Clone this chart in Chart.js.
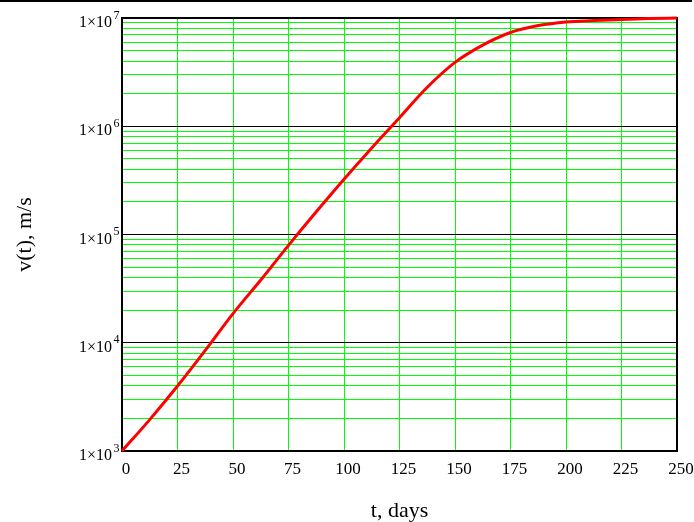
<!DOCTYPE html>
<html>
<head>
<meta charset="utf-8">
<script src="https://cdn.jsdelivr.net/npm/chart.js@4.4.1/dist/chart.umd.min.js"></script>
<style>
  html, body { margin: 0; padding: 0; background: #ffffff; }
  canvas { display: block; }
</style>
</head>
<body>
<canvas id="chart" width="694" height="522" style="width:694px;height:522px"></canvas>
<script>
// time in days, speed
const days = [0, 12.5, 25, 37.5, 50, 62.5, 75, 87.5, 100, 112.5, 125, 137.5,
  150, 162.5, 175, 187.5, 200, 212.5, 225, 237.5, 250];
const speed = [1000, 1950, 3980, 8500, 18600, 38000, 79400, 162000, 324000,
  631000, 1200000, 2290000, 3890000, 5620000, 7350000, 8510000, 9200000,
  9460000, 9680000, 9890000, 10000000];

const xTicks = [0, 25, 50, 75, 100, 125, 150, 175, 200, 225, 250];
const yDecades = [1e3, 1e4, 1e5, 1e6, 1e7];
const yExponents = ["3", "4", "5", "6", "7"];

const SERIF = "'Liberation Serif', 'Times New Roman', serif";
const GRID_GREEN = "#00ff00";

// every 1..9 x 10^n line between the decades
function minorTicks() {
  const out = [];
  for (let i = 0; i < yDecades.length - 1; i++) {
    for (let k = 1; k < 10; k++) {
      out.push(yDecades[i] * k);
    }
  }
  out.push(yDecades[yDecades.length - 1]);
  return out;
}

const isDecade = (v) => yDecades.some((d) => Math.abs(d - v) < 1e-6 * d);

/** Frame, the page rule on top and the 1x10^n labels with a real superscript. */
const mathcadFrame = {
  id: "mathcadFrame",
  beforeDatasetsDraw(chart) {
    const { ctx, chartArea: a } = chart;
    ctx.save();
    ctx.strokeStyle = "#000000";
    ctx.lineWidth = 2;
    ctx.strokeRect(a.left, a.top, a.right - a.left, a.bottom - a.top);
    ctx.restore();
  },
  afterDraw(chart) {
    const { ctx } = chart;
    const y = chart.scales.y;
    ctx.save();
    ctx.fillStyle = "#000000";
    ctx.fillRect(0, 0, 692, 2);
    ctx.textBaseline = "alphabetic";
    yDecades.forEach((d, i) => {
      const py = y.getPixelForValue(d);
      ctx.font = `16px ${SERIF}`;
      ctx.textAlign = "right";
      ctx.fillText("1\u00d710", 112, py + 9);
      ctx.font = `12px ${SERIF}`;
      ctx.textAlign = "left";
      ctx.fillText(yExponents[i], 113.5, py + 0.5);
    });
    ctx.restore();
  },
};

new Chart(document.getElementById("chart"), {
  type: "line",
  data: {
    datasets: [
      {
        data: days.map((t, i) => ({ x: t, y: speed[i] })),
        borderColor: "#ff0000",
        borderWidth: 3,
        pointRadius: 0,
        cubicInterpolationMode: "monotone",
        clip: 4,
      },
    ],
  },
  options: {
    responsive: false,
    animation: false,
    devicePixelRatio: 1,
    layout: { padding: { top: 18, right: 17, left: 0, bottom: 0 } },
    plugins: {
      legend: { display: false },
      tooltip: { enabled: false },
    },
    scales: {
      x: {
        type: "linear",
        min: 0,
        max: 250,
        afterBuildTicks: (s) => { s.ticks = xTicks.map((v) => ({ value: v })); },
        afterFit: (s) => {
          s.height = 71;
          s.paddingLeft = 0;
          s.paddingRight = 0;
        },
        grid: { color: GRID_GREEN, lineWidth: 1, drawTicks: false },
        border: { display: false },
        ticks: {
          color: "#000000",
          font: { family: SERIF, size: 17 },
          padding: 8,
          labelOffset: 4,
          maxRotation: 0,
          autoSkip: false,
        },
        title: {
          display: true,
          text: "t, days",
          color: "#000000",
          font: { family: SERIF, size: 22 },
          padding: { top: 0, bottom: -2 },
        },
      },
      y: {
        type: "logarithmic",
        min: 1e3,
        max: 1e7,
        afterBuildTicks: (s) => { s.ticks = minorTicks().map((v) => ({ value: v })); },
        afterFit: (s) => {
          s.width = 122;
          s.paddingTop = 0;
          s.paddingBottom = 0;
        },
        grid: {
          drawTicks: false,
          color: (c) => (isDecade(c.tick.value) ? "#000000" : GRID_GREEN),
          lineWidth: 1,
        },
        border: { display: false },
        ticks: { display: false, autoSkip: false },
        title: {
          display: true,
          text: "v(t), m/s",
          color: "#000000",
          font: { family: SERIF, size: 22 },
          padding: { top: 12, bottom: 0 },
        },
      },
    },
  },
  plugins: [mathcadFrame],
});
</script>
</body>
</html>
